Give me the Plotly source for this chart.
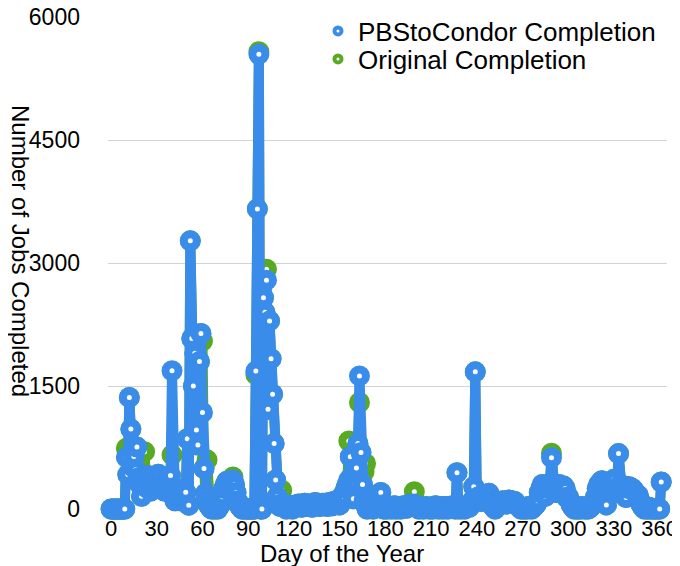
import plotly.graph_objects as go

days = list(range(0, 362))

pbs_to_condor = [
    0, 0, 0, 0, 0, 0, 0, 0, 0, 0,
    630, 420, 1362, 975, 520, 640, 480, 756, 380, 300,
    155, 320, 380, 260, 410, 330, 220, 370, 300, 340,
    390, 425, 310, 260, 350, 220, 300, 260, 350, 408,
    1687, 150, 100, 200, 150, 240, 100, 190, 140, 205,
    857, 47, 3272, 2081, 1500, 1900, 963, 780, 1800, 2142,
    1178, 494, 191, 100, 50, 20, 0, 30, 0, 10,
    0, 40, 60, 150, 250, 300, 340, 330, 280, 230,
    354, 300, 200, 100, 50, 20, 0, 0, 10, 0,
    0, 0, 0, 0, 0, 1683, 3662, 5549, 0, 0,
    2579, 2400, 2793, 1216, 2295, 1835, 1400, 800, 354, 150,
    50, 30, 60, 40, 20, 0, 30, 50, 20, 0,
    30, 50, 40, 60, 30, 20, 50, 70, 40, 30,
    60, 40, 20, 50, 80, 60, 40, 30, 50, 70,
    40, 60, 30, 80, 50, 40, 90, 60, 100, 80,
    50, 100, 170, 150, 250, 300, 354, 638, 400, 124,
    300, 500, 800, 1624, 690, 300, 100, 50, 0, 30,
    20, 40, 0, 30, 60, 100, 150, 202, 50, 0,
    20, 0, 30, 10, 0, 20, 40, 0, 10, 30,
    0, 20, 40, 30, 10, 50, 60, 40, 30, 60,
    40, 20, 0, 30, 10, 0, 20, 30, 10, 0,
    20, 0, 30, 40, 10, 0, 20, 30, 0, 10,
    30, 0, 20, 10, 40, 30, 0, 443, 30, 0,
    20, 10, 0, 30, 40, 20, 60, 100, 272, 1674,
    100, 150, 120, 90, 130, 110, 150, 180, 191, 100,
    50, 20, 0, 30, 60, 80, 90, 100, 80, 60,
    90, 110, 80, 100, 70, 90, 60, 40, 20, 0,
    10, 0, 20, 0, 30, 10, 0, 20, 40, 60,
    100, 200, 250, 300, 280, 155, 250, 300, 310, 626,
    300, 250, 200, 280, 300, 249, 200, 280, 250, 139,
    150, 100, 50, 20, 0, 10, 0, 20, 0, 30,
    10, 0, 20, 0, 10, 30, 60, 100, 150, 250,
    300, 320, 345, 100, 300, 50, 300, 250, 300, 330,
    362, 200, 220, 676, 300, 250, 268, 280, 139, 250,
    270, 260, 250, 230, 200, 180, 167, 100, 50, 20,
    0, 10, 0, 20, 0, 10, 0, 0, 10, 0,
    0, 330,
]

original = [
    0, 0, 0, 0, 0, 0, 0, 0, 0, 0,
    740, 420, 1362, 975, 520, 640, 480, 756, 380, 300,
    155, 320, 700, 260, 410, 330, 220, 370, 300, 340,
    390, 425, 310, 260, 350, 220, 300, 260, 350, 408,
    660, 150, 100, 200, 150, 240, 100, 190, 140, 205,
    857, 47, 3272, 2081, 1500, 1900, 963, 780, 1800, 2142,
    2050, 494, 191, 600, 50, 20, 0, 30, 0, 10,
    0, 40, 60, 150, 250, 300, 340, 330, 280, 230,
    390, 300, 200, 100, 50, 20, 0, 0, 10, 0,
    0, 0, 0, 0, 0, 1640, 3662, 5580, 0, 0,
    2579, 2400, 2927, 1216, 2295, 1835, 1400, 800, 354, 150,
    50, 30, 230, 40, 20, 0, 30, 50, 20, 0,
    30, 50, 40, 60, 30, 20, 50, 70, 40, 30,
    60, 40, 20, 50, 80, 60, 40, 30, 50, 70,
    40, 60, 30, 80, 50, 40, 90, 60, 100, 80,
    50, 100, 170, 150, 250, 300, 830, 638, 400, 124,
    300, 500, 800, 1300, 690, 300, 455, 556, 0, 30,
    20, 40, 0, 30, 60, 100, 150, 202, 50, 0,
    20, 0, 30, 10, 0, 20, 40, 0, 10, 30,
    0, 20, 40, 30, 10, 50, 60, 40, 30, 210,
    40, 20, 0, 30, 10, 0, 20, 30, 10, 0,
    20, 0, 30, 40, 10, 0, 20, 30, 0, 10,
    30, 0, 20, 10, 40, 30, 0, 443, 30, 0,
    20, 10, 0, 30, 40, 20, 60, 100, 272, 1674,
    100, 150, 120, 90, 130, 110, 150, 180, 191, 100,
    50, 20, 0, 30, 60, 80, 90, 100, 80, 60,
    90, 110, 80, 100, 70, 90, 60, 40, 20, 0,
    10, 0, 20, 0, 30, 10, 0, 20, 40, 60,
    100, 200, 250, 300, 280, 155, 250, 300, 310, 680,
    300, 250, 200, 280, 300, 249, 200, 280, 250, 139,
    150, 100, 50, 20, 0, 10, 0, 20, 0, 30,
    10, 0, 20, 0, 10, 30, 60, 100, 150, 250,
    300, 320, 345, 100, 300, 50, 300, 250, 300, 330,
    362, 200, 220, 676, 300, 250, 268, 280, 139, 250,
    270, 260, 250, 230, 200, 180, 167, 100, 50, 20,
    0, 10, 0, 20, 0, 10, 0, 0, 10, 0,
    0, 330,
]

x_ticks = [0, 30, 60, 90, 120, 150, 180, 210, 240, 270, 300, 330, 360]
y_ticks = [0, 1500, 3000, 4500, 6000]

BLUE = "#3A8CEA"
GREEN = "#57AA22"
FONT = "Liberation Sans, Arial, Helvetica, sans-serif"

# the page shows the figure with an 8px offset on both axes, so the figure
# is sized to fill the rest of the 680x566 window
W, H = 672, 558
OFF = 8
L, R, T, B = 100, 13, 9, 57
PW = W - L - R
PH = H - T - B


def px(xs):
    return (xs - OFF - L) / PW


def py(ys):
    return 1 - (ys - OFF - T) / PH


fig = go.Figure()

fig.add_trace(go.Scatter(
    x=days, y=original, mode="lines+markers", name="Original Completion",
    line=dict(color=GREEN, width=10),
    marker=dict(size=13, color="white", line=dict(color=GREEN, width=8)),
    cliponaxis=False, showlegend=False, hoverinfo="skip",
))
fig.add_trace(go.Scatter(
    x=days, y=pbs_to_condor, mode="lines+markers", name="PBStoCondor Completion",
    line=dict(color=BLUE, width=10),
    marker=dict(size=13, color="white", line=dict(color=BLUE, width=8)),
    cliponaxis=False, showlegend=False, hoverinfo="skip",
))
# legend entries (marker only), one legend per row
fig.add_trace(go.Scatter(
    x=[None], y=[None], mode="markers", name="PBStoCondor Completion",
    marker=dict(size=7, color="white", line=dict(color=BLUE, width=4)),
    legend="legend",
))
fig.add_trace(go.Scatter(
    x=[None], y=[None], mode="markers", name="Original Completion",
    marker=dict(size=7, color="white", line=dict(color=GREEN, width=4)),
    legend="legend2",
))

legend_common = dict(xanchor="left", yanchor="middle",
                     bgcolor="rgba(0,0,0,0)",
                     font=dict(size=26, color="black", family=FONT))

fig.update_layout(
    width=W, height=H,
    margin=dict(l=L, r=R, t=T, b=B, autoexpand=False),
    paper_bgcolor="white", plot_bgcolor="white",
    font=dict(family=FONT, size=23, color="black"),
    legend=dict(x=px(318), y=py(31), **legend_common),
    legend2=dict(x=px(318), y=py(59), **legend_common),
    xaxis=dict(
        range=[-2, 364.8], tickvals=x_ticks, ticktext=[str(v) for v in x_ticks],
        showgrid=False, zeroline=False, showline=False, automargin=False,
        ticks="", ticklabelstandoff=4, ticklabeloverflow="allow",
        tickfont=dict(size=22, color="black"),
    ),
    yaxis=dict(
        range=[0, 6004], tickvals=y_ticks, ticktext=[str(v) for v in y_ticks],
        showgrid=True, gridcolor="#d2d2d2", gridwidth=1, automargin=False,
        zeroline=False, showline=False, ticks="", ticklabelstandoff=27,
        ticklabeloverflow="allow",
        tickfont=dict(size=23, color="black"),
    ),
    annotations=[
        dict(text="Day of the Year", xref="paper", yref="paper",
             x=px(342), y=py(553),
             showarrow=False, font=dict(size=24, color="black"),
             xanchor="center", yanchor="middle"),
        dict(text="Number of Jobs Completed", xref="paper", yref="paper",
             x=px(21), y=py(251), textangle=90,
             showarrow=False, font=dict(size=24, color="black"),
             xanchor="center", yanchor="middle"),
    ],
)

fig.write_html("out.html")
